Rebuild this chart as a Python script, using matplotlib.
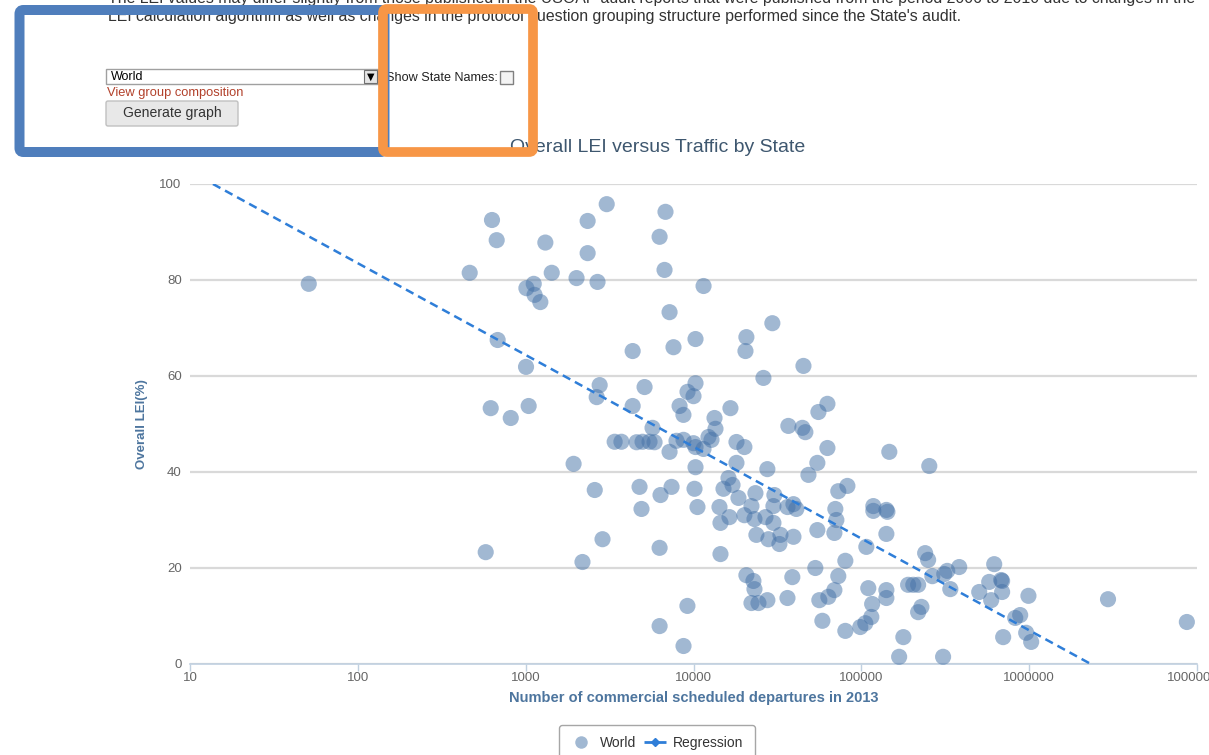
import matplotlib
matplotlib.use("Agg")
import matplotlib.pyplot as plt
from matplotlib.patches import FancyBboxPatch, Rectangle
from matplotlib.lines import Line2D
from matplotlib.transforms import IdentityTransform
from matplotlib.ticker import FixedLocator, FixedFormatter, NullLocator

plt.rcParams['font.family'] = ['Liberation Sans', 'DejaVu Sans']

# ---------------- data ----------------
departures = [51, 630, 672, 464, 1010, 1117, 1130, 1223, 1310, 1430,
              681, 1005, 619, 1042, 815, 578, 2010, 2340, 2340, 2680,
              3040, 6280, 6810, 6720, 11480, 7200, 4340, 7600, 10280, 20660,
              20400, 29500, 26100, 45200, 2760, 2650, 5110, 4340, 8260, 9210,
              10280, 10000, 8710, 13340, 16600, 55500, 62800, 13520, 5700, 3390,
              3720, 4580, 4970, 5470, 5860, 7200, 7920, 8720, 10000, 10280,
              11470, 12280, 12800, 18030, 20100, 18030, 1930, 10280, 16160, 17080,
              15090, 2580, 4770, 7400, 10140, 6360, 18530, 23390, 4900, 10560,
              14280, 16380, 14480, 20100, 22150, 23080, 23700, 2870, 6280, 14480,
              2180, 20660, 9200, 6280, 8720, 22750, 23080, 22150, 24380, 27550,
              27950, 32960, 32500, 39400, 29940, 54700, 69100, 80300, 53200, 72900,
              38800, 36300, 56200, 63600, 69100, 58600, 80300, 36750, 44550, 46400,
              62800, 146800, 254000, 54700, 27550, 48400, 72900, 82600, 30340, 29940,
              36300, 39400, 41000, 70000, 71000, 117900, 117900, 141000, 143000, 26850,
              141000, 107100, 240000, 250000, 265000, 619000, 383000, 325000, 312000, 578000,
              681000, 690000, 339000, 504000, 690000, 990000, 594000, 110000, 141000, 141000,
              190000, 204000, 218000, 116000, 228000, 218000, 114700, 105600, 98600, 884000,
              826000, 960000, 1028000, 700000, 178000, 168000, 307000, 2950000, 8700000]
lei = [79.2, 92.5, 88.3, 81.5, 78.3, 79.2, 76.9, 75.4, 87.8, 81.5,
       67.5, 61.9, 53.3, 53.75, 51.25, 23.3, 80.4, 92.3, 85.6, 79.6,
       95.8, 89.0, 94.2, 82.1, 78.75, 73.3, 65.2, 66.0, 67.7, 68.1,
       65.2, 71.0, 59.6, 62.1, 58.1, 55.6, 57.7, 53.75, 53.75, 56.7,
       58.5, 55.8, 51.9, 51.25, 53.3, 52.5, 54.2, 49.0, 49.2, 46.3,
       46.3, 46.2, 46.3, 46.3, 46.2, 44.2, 46.5, 46.7, 46.0, 45.2,
       44.8, 47.3, 46.7, 46.25, 45.2, 41.9, 41.7, 41.0, 38.75, 37.3,
       36.5, 36.25, 36.9, 36.9, 36.5, 35.2, 34.6, 35.6, 32.3, 32.7,
       32.7, 30.6, 29.4, 31.0, 32.9, 30.2, 26.9, 26.0, 24.2, 22.9,
       21.25, 18.5, 12.1, 7.9, 3.75, 17.3, 15.6, 12.7, 12.7, 13.3,
       26.0, 26.9, 25.0, 26.5, 29.4, 27.9, 27.3, 21.5, 20.0, 18.3,
       18.1, 13.75, 13.3, 14.0, 15.4, 9.0, 6.9, 49.6, 49.2, 48.3,
       45.0, 44.2, 41.25, 41.9, 40.6, 39.4, 36.0, 37.1, 35.2, 32.9,
       32.7, 33.3, 32.3, 32.3, 30.0, 32.9, 31.9, 32.1, 31.7, 30.6,
       27.1, 24.4, 23.1, 21.7, 18.3, 20.8, 20.2, 19.4, 18.75, 17.1,
       17.5, 17.3, 15.6, 15.0, 15.0, 14.2, 13.3, 15.8, 15.4, 13.75,
       16.5, 16.5, 16.5, 12.5, 11.9, 10.8, 9.8, 8.5, 7.7, 10.2,
       9.6, 6.5, 4.6, 5.6, 5.6, 1.5, 1.5, 13.5, 8.75]

regression_x = [13.7, 2.33e6]
regression_y = [100, 0]

x_ticks = [10, 100, 1000, 10000, 100000, 1000000, 10000000]
x_tick_labels = ['10', '100', '1000', '10000', '100000', '1000000', '10000000']
y_ticks = [0, 20, 40, 60, 80, 100]

W, H = 1209, 755
fig = plt.figure(figsize=(W / 100, H / 100), dpi=100)


def P(x, y):
    return x / W, 1 - y / H


# ---------------- chart ----------------
ax = fig.add_axes([P(190, 0)[0], P(0, 664)[1], (1197 - 190) / W, (664 - 184) / H])
ax.set_xscale('log')
ax.set_xlim(10, 1e7)
ax.set_ylim(0, 100)
for s in ['top', 'right', 'left']:
    ax.spines[s].set_visible(False)
ax.spines['bottom'].set_color('#c0d0e0')
ax.spines['bottom'].set_linewidth(1.2)
ax.xaxis.set_major_locator(FixedLocator(x_ticks))
ax.xaxis.set_major_formatter(FixedFormatter(x_tick_labels))
ax.xaxis.set_minor_locator(NullLocator())
ax.set_yticks(y_ticks)
ax.tick_params(axis='x', colors='#c0d0e0', length=5, width=1, labelcolor='#666666',
               labelsize=9.5, pad=1)
ax.tick_params(axis='y', length=0, labelcolor='#666666', labelsize=9.5, pad=6)
ax.grid(axis='y', color='#d9d9d9', linewidth=1.6)
ax.set_axisbelow(True)

ax.scatter(departures, lei, s=135, color='#4572a7', alpha=0.5, edgecolors='none',
           zorder=3, clip_on=False)
ax.plot(regression_x, regression_y, color='#2f7ed8', lw=1.8, ls=(0, (3.4, 2.1)), zorder=4)

ax.set_xlabel('Number of commercial scheduled departures in 2013', color='#4d759e',
              fontsize=10.5, fontweight='bold', labelpad=5)
ax.set_ylabel('Overall LEI(%)', color='#4d759e', fontsize=9.5, fontweight='bold', labelpad=8)

fig.text(*P(658, 147), 'Overall LEI versus Traffic by State', ha='center', va='center',
         fontsize=14, color='#3e576f')

# legend
h_world = Line2D([], [], ls='none', marker='o', ms=9, color='#4572a7', alpha=0.5, mec='none')
h_reg = Line2D([], [], ls=(0, (4, 1)), lw=2, marker='D', ms=4, color='#2f7ed8')
leg = fig.legend([h_world, h_reg], ['World', 'Regression'], loc='center',
                 bbox_to_anchor=P(657, 743), ncol=2, fontsize=10, frameon=True,
                 fancybox=True, edgecolor='#909090', handlelength=1.6,
                 columnspacing=0.6, handletextpad=0.5, borderpad=0.8)
leg.get_frame().set_linewidth(1)
for t in leg.get_texts():
    t.set_color('#333333')

# ---------------- page elements ----------------
fig.text(*P(108, -1), "The LEI values may differ slightly from those published in the USOAP audit reports "
         "that were published from the period 2006 to 2010 due to changes in the",
         ha='left', va='center', fontsize=11.4, color='#333333')
fig.text(*P(108, 16), "LEI calculation algorithm as well as changes in the protocol question grouping "
         "structure performed since the State's audit.",
         ha='left', va='center', fontsize=11.4, color='#333333')

I = IdentityTransform()


def box(x0, y0, x1, y1, **kw):
    r = Rectangle((x0, H - y1), x1 - x0, y1 - y0, transform=I, **kw)
    fig.add_artist(r)
    return r


# dropdown
box(106, 69, 378, 84, facecolor='white', edgecolor='#a0a0a0', lw=1)
box(364, 70, 377, 83, facecolor='#e6e6e6', edgecolor='#707070', lw=0.8)
fig.text(*P(370.5, 77), '▼', ha='center', va='center', fontsize=7, color='#000000',
         family=['DejaVu Sans'])
fig.text(*P(111, 77), 'World', ha='left', va='center', fontsize=9, color='#000000')
fig.text(*P(107, 93), 'View group composition', ha='left', va='center', fontsize=9.3,
         color='#b2412b')
# button
btn = FancyBboxPatch((106, H - 126), 132, 25, boxstyle='round,pad=0,rounding_size=2',
                     transform=I, facecolor='#e8e8e8', edgecolor='#c0c0c0', lw=1)
fig.add_artist(btn)
fig.text(*P(172, 113), 'Generate graph', ha='center', va='center', fontsize=10.1,
         color='#333333')
# checkbox
fig.text(*P(386, 78), 'Show State Names:', ha='left', va='center', fontsize=9.1,
         color='#222222')
box(500, 71, 513, 84, facecolor='#f4f4f4', edgecolor='#808080', lw=1)

# overlay highlight rectangles
blue = FancyBboxPatch((19.5, H - 152), 365, 142, boxstyle='round,pad=0,rounding_size=4',
                      transform=I, facecolor='none', edgecolor='#4f7ebc', lw=7.2, zorder=10)
fig.add_artist(blue)
orange = FancyBboxPatch((383, H - 152), 150, 143, boxstyle='round,pad=0,rounding_size=4',
                        transform=I, facecolor='none', edgecolor='#f79646', lw=7.0, zorder=11)
fig.add_artist(orange)

fig.savefig('out.png', dpi=100)
